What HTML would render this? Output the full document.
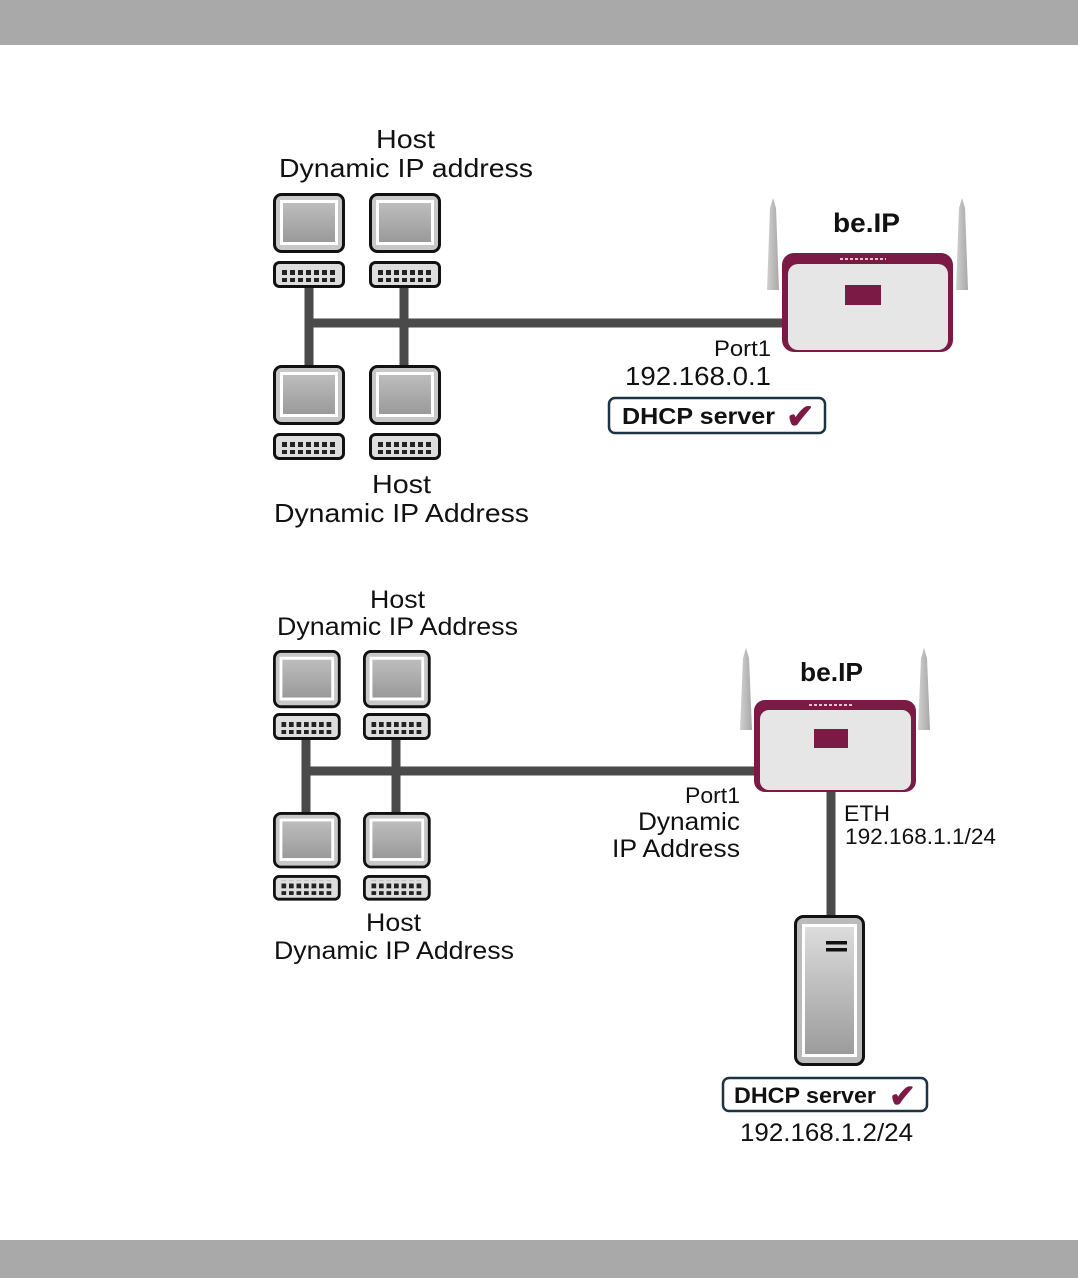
<!DOCTYPE html>
<html><head><meta charset="utf-8"><style>
html,body{margin:0;padding:0;background:#fff}
svg{display:block}
text{font-family:"Liberation Sans",sans-serif;fill:#111}
</style></head><body>
<svg width="1078" height="1278" viewBox="0 0 1078 1278" xmlns="http://www.w3.org/2000/svg">
<defs>
<linearGradient id="scr" x1="0" y1="0" x2="0" y2="1"><stop offset="0" stop-color="#bdbdbd"/><stop offset="1" stop-color="#9a9a9a"/></linearGradient>
<linearGradient id="srv" x1="0" y1="0" x2="0" y2="1"><stop offset="0" stop-color="#dcdcdc"/><stop offset="1" stop-color="#9c9c9c"/></linearGradient>
<linearGradient id="ant" x1="0" y1="0" x2="1" y2="0"><stop offset="0" stop-color="#d0d0d0"/><stop offset="1" stop-color="#a8a8a8"/></linearGradient>
<g id="mon">
<rect x="1.5" y="1.5" width="69" height="57" rx="7" fill="#c8c8c8" stroke="#111" stroke-width="3"/>
<rect x="7" y="7" width="58" height="45" fill="#fff"/>
<rect x="10" y="10" width="52" height="39" fill="url(#scr)"/>
</g>
<pattern id="dots" x="0" y="0" width="8" height="8" patternUnits="userSpaceOnUse"><rect x="1" y="1" width="5" height="5" fill="#222"/></pattern>
<g id="kb">
<rect x="1.5" y="1.5" width="69" height="24" rx="5" fill="#ddd" stroke="#111" stroke-width="3"/>
<rect x="9" y="6" width="54" height="15" fill="url(#dots)"/>
</g>
</defs>
<rect x="0" y="0" width="1078" height="45" fill="#a9a9a9"/>
<rect x="0" y="1240" width="1078" height="38" fill="#a9a9a9"/>

<!-- TOP DIAGRAM -->
<g stroke="#4a4a4a" stroke-width="9" fill="none">
<line x1="309" y1="286" x2="309" y2="368"/>
<line x1="404" y1="286" x2="404" y2="368"/>
<line x1="305" y1="323" x2="790" y2="323"/>
</g>
<use href="#mon" x="273" y="193"/><use href="#mon" x="369" y="193"/>
<use href="#kb" x="273" y="261"/><use href="#kb" x="369" y="261"/>
<use href="#mon" x="273" y="365"/><use href="#mon" x="369" y="365"/>
<use href="#kb" x="273" y="433"/><use href="#kb" x="369" y="433"/>
<text x="376" y="148" font-size="26" textLength="59" lengthAdjust="spacingAndGlyphs">Host</text>
<text x="279" y="177" font-size="26" textLength="254" lengthAdjust="spacingAndGlyphs">Dynamic IP address</text>
<text x="372" y="493" font-size="26" textLength="59" lengthAdjust="spacingAndGlyphs">Host</text>
<text x="274" y="522" font-size="26" textLength="255" lengthAdjust="spacingAndGlyphs">Dynamic IP Address</text>
<!-- router top -->
<polygon points="767,290 770,208 773,198 776,208 779,290" fill="url(#ant)"/>
<polygon points="956,290 959,208 962,198 965,208 968,290" fill="url(#ant)"/>
<rect x="782" y="253" width="171" height="99" rx="12" fill="#7a1a45"/>
<rect x="788" y="264" width="160" height="86" rx="10" fill="#e6e6e6"/>
<line x1="840" y1="259" x2="886" y2="259" stroke="#fff" stroke-width="1.5" stroke-dasharray="3,2"/>
<rect x="845" y="285" width="36" height="20" fill="#7a1a45"/>
<text x="833" y="232" font-size="27" font-weight="bold" textLength="67" lengthAdjust="spacingAndGlyphs">be.IP</text>
<text x="714" y="356" font-size="22" textLength="57" lengthAdjust="spacingAndGlyphs">Port1</text>
<text x="625" y="385" font-size="26" textLength="146" lengthAdjust="spacingAndGlyphs">192.168.0.1</text>
<rect x="609" y="398" width="216" height="35" rx="6" fill="#fff" stroke="#1c3346" stroke-width="2.5"/>
<text x="622" y="424" font-size="23" font-weight="bold" textLength="153" lengthAdjust="spacingAndGlyphs">DHCP server</text>
<text x="786" y="428" font-size="34" font-weight="bold" style="fill:#7a1a45">✔</text>

<!-- BOTTOM DIAGRAM -->
<g stroke="#4a4a4a" stroke-width="9" fill="none">
<line x1="306" y1="738" x2="306" y2="814"/>
<line x1="396" y1="738" x2="396" y2="814"/>
<line x1="302" y1="771" x2="758" y2="771"/>
<line x1="831" y1="790" x2="831" y2="917"/>
</g>
<g transform="translate(273,650) scale(0.94,0.97)"><use href="#mon"/></g>
<g transform="translate(363,650) scale(0.94,0.97)"><use href="#mon"/></g>
<g transform="translate(273,713) scale(0.94,1)"><use href="#kb"/></g>
<g transform="translate(363,713) scale(0.94,1)"><use href="#kb"/></g>
<g transform="translate(273,812) scale(0.94,0.94)"><use href="#mon"/></g>
<g transform="translate(363,812) scale(0.94,0.94)"><use href="#mon"/></g>
<g transform="translate(273,875) scale(0.94,0.95)"><use href="#kb"/></g>
<g transform="translate(363,875) scale(0.94,0.95)"><use href="#kb"/></g>
<text x="370" y="608" font-size="25" textLength="55" lengthAdjust="spacingAndGlyphs">Host</text>
<text x="277" y="635" font-size="25" textLength="241" lengthAdjust="spacingAndGlyphs">Dynamic IP Address</text>
<text x="366" y="931" font-size="25" textLength="55" lengthAdjust="spacingAndGlyphs">Host</text>
<text x="274" y="959" font-size="25" textLength="240" lengthAdjust="spacingAndGlyphs">Dynamic IP Address</text>
<!-- router bottom -->
<polygon points="740,730 743,658 746,648 749,658 752,730" fill="url(#ant)"/>
<polygon points="918,730 921,658 924,648 927,658 930,730" fill="url(#ant)"/>
<rect x="754" y="700" width="162" height="92" rx="11" fill="#7a1a45"/>
<rect x="760" y="710" width="151" height="80" rx="9" fill="#e6e6e6"/>
<line x1="809" y1="705" x2="853" y2="705" stroke="#fff" stroke-width="1.5" stroke-dasharray="3,2"/>
<rect x="814" y="729" width="34" height="19" fill="#7a1a45"/>
<text x="800" y="681" font-size="26" font-weight="bold" textLength="63" lengthAdjust="spacingAndGlyphs">be.IP</text>
<text x="685" y="803" font-size="22" textLength="55" lengthAdjust="spacingAndGlyphs">Port1</text>
<text x="638" y="830" font-size="25" textLength="102" lengthAdjust="spacingAndGlyphs">Dynamic</text>
<text x="612" y="857" font-size="25" textLength="128" lengthAdjust="spacingAndGlyphs">IP Address</text>
<text x="844" y="821" font-size="22" textLength="46" lengthAdjust="spacingAndGlyphs">ETH</text>
<text x="845" y="844" font-size="22" textLength="151" lengthAdjust="spacingAndGlyphs">192.168.1.1/24</text>
<!-- server -->
<rect x="795.5" y="916.5" width="68" height="148" rx="8" fill="#bbb" stroke="#111" stroke-width="3"/>
<rect x="802" y="924" width="55" height="133" fill="#fff"/>
<rect x="805" y="927" width="49" height="127" fill="url(#srv)"/>
<rect x="826" y="941" width="21" height="3.5" fill="#111"/>
<rect x="826" y="948" width="21" height="3.5" fill="#111"/>
<rect x="723" y="1078" width="204" height="33" rx="6" fill="#fff" stroke="#1c3346" stroke-width="2.5"/>
<text x="734" y="1103" font-size="22" font-weight="bold" textLength="142" lengthAdjust="spacingAndGlyphs">DHCP server</text>
<text x="889" y="1107" font-size="32" font-weight="bold" style="fill:#7a1a45">✔</text>
<text x="740" y="1141" font-size="25" textLength="173" lengthAdjust="spacingAndGlyphs">192.168.1.2/24</text>
</svg>
</body></html>
